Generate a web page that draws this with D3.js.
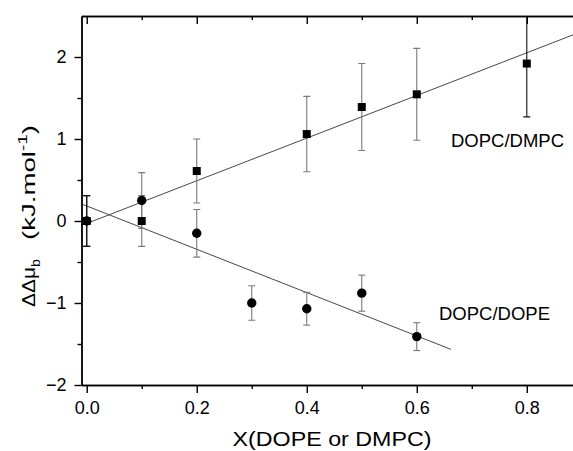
<!DOCTYPE html>
<html><head><meta charset="utf-8">
<script src="https://cdn.jsdelivr.net/npm/d3@7"></script>
<style>
body{margin:0;background:#fff;}
text{font-family:Arial,"Liberation Sans",Helvetica,sans-serif;fill:#000;}
</style></head>
<body><svg id="c" width="573" height="451"></svg>
<script>
// ---- data ----
const dmpcX   = [0, 0.1, 0.2, 0.4, 0.5, 0.6, 0.8];
const dmpcY   = [0, 0, 0.61, 1.06, 1.39, 1.545, 1.92];
const dmpcErr = [0.31, 0.31, 0.39, 0.46, 0.53, 0.56, 0.65];
const dopeX   = [0, 0.1, 0.2, 0.3, 0.4, 0.5, 0.6];
const dopeY   = [0, 0.25, -0.15, -1.0, -1.07, -0.88, -1.41];
const dopeErr = [0.31, 0.34, 0.29, 0.21, 0.20, 0.22, 0.17];
const fitDMPC = [[0, -0.03], [0.884, 2.27]];
const fitDOPE = [[-0.009, 0.207], [0.662, -1.565]];
const xMajor = [0, 0.2, 0.4, 0.6, 0.8];
const xMinor = [0.1, 0.3, 0.5, 0.7];
const yMajor = [-2, -1, 0, 1, 2];
const yMinor = [-1.5, -0.5, 0.5, 1.5];
const labelDMPC = "DOPC/DMPC", labelDOPE = "DOPC/DOPE";
const xTitle = "X(DOPE or DMPC)";

// ---- layout ----
const L = 81.5, R = 573, T = 16, B = 385;
const svg = d3.select("#c");
svg.append("rect").attr("width",573).attr("height",451).attr("fill","#fff");
const x = d3.scaleLinear().domain([-0.0095, 0.884]).range([L, R]);
const y = d3.scaleLinear().domain([-2, 2.5]).range([B, T]);

svg.append("clipPath").attr("id","clip").append("rect")
  .attr("x",L).attr("y",T).attr("width",R-L).attr("height",B-T);
const plot = svg.append("g").attr("clip-path","url(#clip)");

// fit lines
const line = d3.line().x(d=>x(d[0])).y(d=>y(d[1]));
[fitDMPC, fitDOPE].forEach(f=>{
  plot.append("path").attr("d", line(f)).attr("fill","none")
    .attr("stroke","#333").attr("stroke-width",0.9);
});

// error bars
function errBars(xs, ys, es, darkIdx){
  xs.forEach((xv,i)=>{
    const g = plot.append("g").attr("stroke", darkIdx.includes(i) ? "#111" : "#7a7a7a").attr("stroke-width",1.1);
    const cx = x(xv), y1 = y(ys[i]+es[i]), y2 = y(ys[i]-es[i]);
    g.append("line").attr("x1",cx).attr("x2",cx).attr("y1",y1).attr("y2",y2);
    g.append("line").attr("x1",cx-3.5).attr("x2",cx+3.5).attr("y1",y1).attr("y2",y1);
    g.append("line").attr("x1",cx-3.5).attr("x2",cx+3.5).attr("y1",y2).attr("y2",y2);
  });
}
errBars(dmpcX, dmpcY, dmpcErr, [0,6]);
errBars(dopeX, dopeY, dopeErr, [0]);

// markers
dmpcX.forEach((xv,i)=>{
  plot.append("rect").attr("x",x(xv)-4).attr("y",y(dmpcY[i])-4)
    .attr("width",8).attr("height",8).attr("fill","#000");
});
dopeX.forEach((xv,i)=>{
  plot.append("circle").attr("cx",x(xv)).attr("cy",y(dopeY[i])).attr("r",4.7).attr("fill","#000");
});

// ---- axes ----
function styleAxis(g){
  g.selectAll("path,line").attr("stroke","#000").attr("stroke-width",1.4);
  g.selectAll("text").attr("font-size","18px").attr("font-family","Arial,'Liberation Sans',sans-serif");
}
const fmt = d3.format(".1f");
svg.append("g").attr("transform",`translate(0,${B})`)
  .call(d3.axisBottom(x).tickValues(xMajor).tickSize(8).tickSizeOuter(0).tickPadding(8).tickFormat(fmt))
  .call(styleAxis);
svg.append("g").attr("transform",`translate(0,${B})`)
  .call(d3.axisBottom(x).tickValues(xMinor).tickSize(4).tickSizeOuter(0).tickFormat(""))
  .call(styleAxis);
svg.append("g").attr("transform",`translate(0,${T})`)
  .call(d3.axisTop(x).tickValues(xMajor).tickSize(-8).tickSizeOuter(0).tickFormat(""))
  .call(styleAxis);
svg.append("g").attr("transform",`translate(0,${T})`)
  .call(d3.axisTop(x).tickValues(xMinor).tickSize(-4).tickSizeOuter(0).tickFormat(""))
  .call(styleAxis);
svg.append("g").attr("transform",`translate(${L},0)`)
  .call(d3.axisLeft(y).tickValues(yMajor).tickSize(7).tickSizeOuter(0).tickPadding(8).tickFormat(d3.format("d")))
  .call(styleAxis);
svg.append("g").attr("transform",`translate(${L},0)`)
  .call(d3.axisLeft(y).tickValues(yMinor).tickSize(4).tickSizeOuter(0).tickFormat(""))
  .call(styleAxis);

// ---- labels ----
svg.append("text").attr("x",451).attr("y",147).attr("font-size","18.5px").text(labelDMPC);
svg.append("text").attr("x",439).attr("y",319.5).attr("font-size","18.5px").text(labelDOPE);

svg.append("text").attr("x",332).attr("y",446).attr("text-anchor","middle")
  .attr("font-size","21px").attr("textLength",199).attr("lengthAdjust","spacingAndGlyphs").text(xTitle);

const yt1 = svg.append("text").attr("transform","translate(35,307) rotate(-90)")
  .attr("font-size","19px").attr("textLength",48).attr("lengthAdjust","spacingAndGlyphs");
yt1.append("tspan").text("ΔΔμ");
yt1.append("tspan").attr("dy",5).attr("font-size","13px").text("b");
const yt2 = svg.append("text").attr("transform","translate(35,240) rotate(-90)")
  .attr("font-size","19px").attr("textLength",115).attr("lengthAdjust","spacingAndGlyphs");
yt2.append("tspan").text("(kJ.mol");
yt2.append("tspan").attr("dy",-8).attr("font-size","13px").text("-1");
yt2.append("tspan").attr("dy",8).text(")");
</script></body></html>
